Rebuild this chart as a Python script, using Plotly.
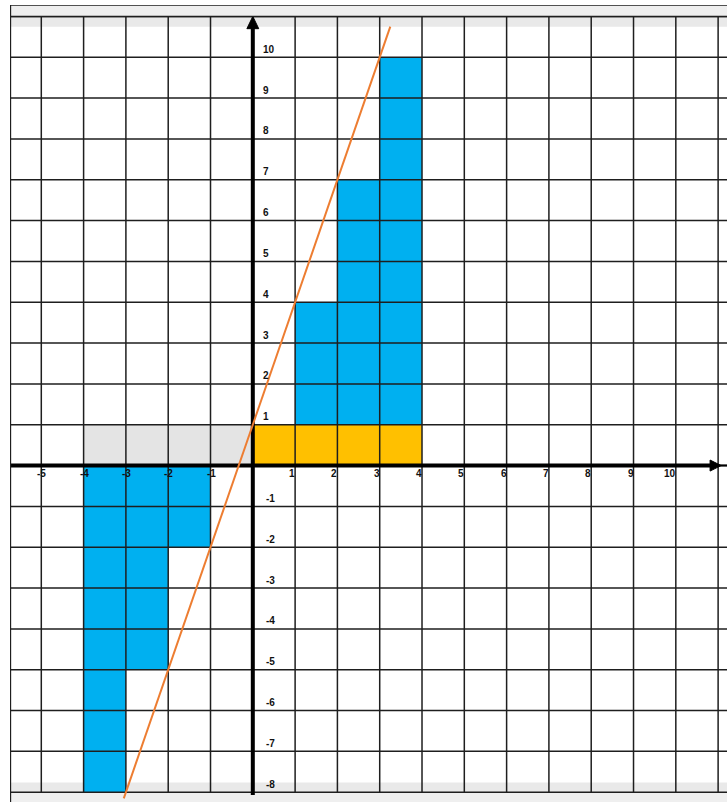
import plotly.graph_objects as go

# ---- data ----
grid_x = list(range(-5, 12))          # vertical grid lines
grid_y = list(range(-8, 12))          # horizontal grid lines
x_labels = [-5, -4, -3, -2, -1, 1, 2, 3, 4, 5, 6, 7, 8, 9, 10]
y_labels = [-8, -7, -6, -5, -4, -3, -2, -1, 1, 2, 3, 4, 5, 6, 7, 8, 9, 10]

gray_x = [-3.5, -2.5, -1.5, -0.5]
gray_base = [0, 0, 0, 0]
gray_h = [1, 1, 1, 1]

gold_x = [0.5, 1.5, 2.5, 3.5]
gold_base = [0, 0, 0, 0]
gold_h = [1, 1, 1, 1]

blue_pos_x = [1.5, 2.5, 3.5]
blue_pos_base = [1, 1, 1]
blue_pos_h = [3, 6, 9]

blue_neg_x = [-3.5, -2.5, -1.5]
blue_neg_base = [0, 0, 0]
blue_neg_h = [-8, -5, -2]

line_x = [-3.05, 3.25]
line_y = [-8.15, 10.75]

X0, X1 = -5.74, 11.21
Y0, Y1 = -8.24, 11.28

GRID = "#1e1e1e"
BLUE = "#00B0F0"
GOLD = "#FFC000"
LGRAY = "#E4E4E4"
ORANGE = "#ED7D31"

fig = go.Figure()

def bars(x, base, h, color):
    fig.add_trace(go.Bar(x=x, y=h, base=base, width=1, marker=dict(color=color, line=dict(width=0)),
                         showlegend=False, hoverinfo="skip"))

bars(gray_x, gray_base, gray_h, LGRAY)
bars(gold_x, gold_base, gold_h, GOLD)
bars(blue_pos_x, blue_pos_base, blue_pos_h, BLUE)
bars(blue_neg_x, blue_neg_base, blue_neg_h, BLUE)

# grid lines
gx, gy = [], []
for v in grid_x:
    gx += [v, v, None]
    gy += [min(grid_y), max(grid_y), None]
for h in grid_y:
    gx += [X0, X1, None]
    gy += [h, h, None]
fig.add_trace(go.Scatter(x=gx, y=gy, mode="lines", line=dict(color=GRID, width=1.5),
                         showlegend=False, hoverinfo="skip"))

# axes
fig.add_trace(go.Scatter(x=[X0, 10.9, None, 0, 0], y=[0, 0, None, -8.07, 10.8], mode="lines",
                         line=dict(color="black", width=4), showlegend=False, hoverinfo="skip"))
fig.add_trace(go.Scatter(x=[X0, X1], y=[0, 0], mode="lines",
                         line=dict(color="black", width=2), showlegend=False, hoverinfo="skip"))
# arrowheads
fig.add_trace(go.Scatter(x=[11.07, 10.81, 10.81, 11.07], y=[0, 0.135, -0.135, 0], mode="lines",
                         fill="toself", fillcolor="black", line=dict(color="black", width=1),
                         showlegend=False, hoverinfo="skip"))
fig.add_trace(go.Scatter(x=[0, -0.14, 0.14, 0], y=[11.0, 10.7, 10.7, 11.0], mode="lines",
                         fill="toself", fillcolor="black", line=dict(color="black", width=1),
                         showlegend=False, hoverinfo="skip"))

# orange line
fig.add_trace(go.Scatter(x=line_x, y=line_y, mode="lines", line=dict(color=ORANGE, width=2),
                         showlegend=False, hoverinfo="skip"))

font = dict(family="Liberation Sans", size=10, color="#111")
for v in x_labels:
    fig.add_annotation(x=v, y=0, text="<b>%d</b>" % v, showarrow=False, font=font,
                       xanchor="right", yanchor="middle", yshift=-8,
                       xshift=(7 if v < 0 else 2))
for v in y_labels:
    fig.add_annotation(x=0, y=v, text="<b>%d</b>" % v, showarrow=False, font=font,
                       xanchor="left", yanchor="middle", yshift=8,
                       xshift=(11 if v < 0 else 8))

shapes = [
    dict(type="rect", xref="x", yref="y", x0=X0, x1=X1, y0=10.75, y1=11.0,
         fillcolor="#E9E9E9", line=dict(width=0), layer="below"),
    dict(type="rect", xref="x", yref="y", x0=X0, x1=X1, y0=-8.0, y1=-7.76,
         fillcolor="#E9E9E9", line=dict(width=0), layer="below"),
    dict(type="rect", xref="x", yref="y", x0=X0, x1=X1, y0=-8.24, y1=-8.0,
         fillcolor="#EFEFEF", line=dict(width=0), layer="below"),
    dict(type="rect", xref="x", yref="y", x0=X0, x1=X1 + 0.1, y0=11.0, y1=Y1,
         fillcolor="#EEEEEE", line=dict(color=GRID, width=1.5), layer="above"),
    dict(type="line", xref="x", yref="y", x0=X0 + 0.01, x1=X0 + 0.01, y0=Y0, y1=Y1,
         line=dict(color=GRID, width=1.5), layer="above"),
]

fig.update_layout(
    width=727, height=802,
    margin=dict(l=10, r=0, t=5, b=0),
    paper_bgcolor="white", plot_bgcolor="white",
    barmode="overlay", bargap=0,
    xaxis=dict(range=[X0, X1], showgrid=False, zeroline=False, showticklabels=False, ticks="", fixedrange=True),
    yaxis=dict(range=[Y0, Y1], showgrid=False, zeroline=False, showticklabels=False, ticks="", fixedrange=True),
    shapes=shapes,
    showlegend=False,
)

fig.write_html("out.html", config={"displayModeBar": False},
               post_script="document.body.style.margin='0';document.body.style.overflow='hidden';")
